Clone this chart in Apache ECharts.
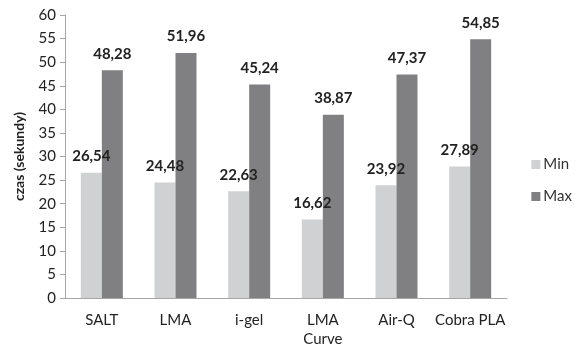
<!DOCTYPE html>
<html>
<head>
<meta charset="utf-8">
<script src="https://cdn.jsdelivr.net/npm/echarts@6/dist/echarts.min.js"></script>
<style>
html,body{margin:0;padding:0;background:#fff;}
#chart{width:579px;height:349px;}
</style>
</head>
<body>
<div id="chart"></div>
<script>
var categories = ['SALT', 'LMA', 'i-gel', 'LMA\nCurve', 'Air-Q', 'Cobra PLA'];
var minValues = [26.54, 24.48, 22.63, 16.62, 23.92, 27.89];
var maxValues = [48.28, 51.96, 45.24, 38.87, 47.37, 54.85];
var seriesNames = ['Min', 'Max'];
var colors = ['#d0d1d3', '#808083'];

var fontFamily = 'Lato, "Open Sans", sans-serif';

function labelFmt(p) {
    return p.value.toFixed(2).replace('.', ',');
}

var option = {
    animation: false,
    color: colors,
    textStyle: {fontFamily: fontFamily},
    grid: {left: 65, right: 72, top: 15, bottom: 49},
    legend: {
        orient: 'vertical',
        right: 2,
        top: 152,
        itemWidth: 9,
        itemHeight: 9,
        itemGap: 17,
        icon: 'rect',
        data: seriesNames,
        textStyle: {fontSize: 15, color: '#333', fontFamily: fontFamily, padding: [0, 0, 0, -2]}
    },
    xAxis: {
        type: 'category',
        data: categories,
        axisLine: {lineStyle: {color: '#a6a6a6', width: 1}},
        axisTick: {show: false},
        axisLabel: {color: '#222', fontSize: 15, margin: 13, lineHeight: 19, interval: 0, fontFamily: fontFamily}
    },
    yAxis: {
        type: 'value',
        min: 0,
        max: 60,
        interval: 5,
        name: 'czas (sekundy)',
        nameLocation: 'middle',
        nameGap: 39,
        nameRotate: 90,
        nameTextStyle: {fontWeight: 'bold', fontSize: 14, color: '#222', fontFamily: fontFamily},
        axisLine: {show: true, lineStyle: {color: '#a6a6a6', width: 1}},
        axisTick: {show: true, length: 5, lineStyle: {color: '#a6a6a6'}},
        splitLine: {show: false},
        axisLabel: {color: '#222', fontSize: 15, margin: 9, fontFamily: fontFamily}
    },
    series: [
        {
            name: seriesNames[0],
            type: 'bar',
            data: minValues,
            barWidth: 21,
            barGap: '0%',
            label: {show: true, position: 'top', distance: 9, fontWeight: 'bold', fontSize: 15, color: '#222', formatter: labelFmt, fontFamily: fontFamily}
        },
        {
            name: seriesNames[1],
            type: 'bar',
            data: maxValues,
            barWidth: 21,
            barGap: '0%',
            label: {show: true, position: 'top', distance: 9, fontWeight: 'bold', fontSize: 15, color: '#222', formatter: labelFmt, fontFamily: fontFamily}
        }
    ]
};

var myChart = echarts.init(document.getElementById('chart'));
myChart.setOption(option);
</script>
</body>
</html>
